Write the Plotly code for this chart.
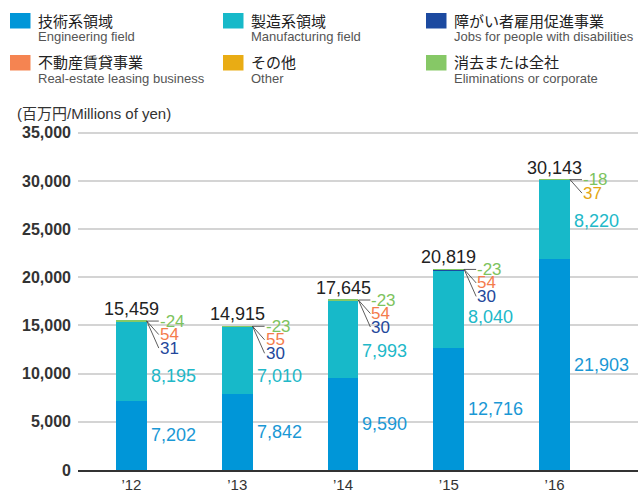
import plotly.graph_objects as go

# ---------------- data ----------------
years = ["’12", "’13", "’14", "’15", "’16"]
engineering = [7202, 7842, 9590, 12716, 21903]
manufacturing = [8195, 7010, 7993, 8040, 8220]
jobs = [31, 30, 30, 30, None]
real_estate = [54, 55, 54, 54, None]
other = [None, None, None, None, 37]
eliminations = [-24, -23, -23, -23, -18]
totals = [15459, 14915, 17645, 20819, 30143]
y_ticks = [0, 5000, 10000, 15000, 20000, 25000, 30000, 35000]

# ---------------- styles ----------------
FONT = "Liberation Sans, Arial, Noto Sans CJK JP, sans-serif"
C_ENG, C_MFG, C_JOBS = "#0096d8", "#17b9c9", "#1c4aa0"
C_RE, C_OTH, C_ELIM = "#f58451", "#e9ac14", "#86c866"
L_ENG, L_MFG, L_JOBS = "#1a98d5", "#21b8c8", "#23479b"
L_RE, L_OTH, L_ELIM = "#f47c4c", "#e4a612", "#7dc35e"
BW = 0.29
# vertical placement (data units) for manufacturing value labels
mfg_label_y = [9750, 9750, 12340, 15870, 25830]

xs = list(range(len(years)))

fig = go.Figure()
for vals, col, name in [
    (engineering, C_ENG, "eng"),
    (manufacturing, C_MFG, "mfg"),
    (jobs, C_JOBS, "jobs"),
    (real_estate, C_RE, "re"),
    (other, C_OTH, "oth"),
    (eliminations, C_ELIM, "elim"),
]:
    fig.add_trace(go.Bar(x=xs, y=vals, width=BW, marker=dict(color=col, line=dict(width=0)),
                         name=name, showlegend=False, hoverinfo="skip"))

ann = []
for i in xs:
    # total
    ann.append(dict(x=i, y=totals[i], text=f"{totals[i]:,}", showarrow=False, xref="x", yref="y",
                    yanchor="bottom", yshift=0, font=dict(size=18, color="#222", family=FONT)))
    # engineering
    ann.append(dict(x=i + BW / 2, y=engineering[i] / 2, text=f"{engineering[i]:,}", showarrow=False,
                    xref="x", yref="y", xanchor="left", xshift=2,
                    font=dict(size=18, color=L_ENG, family=FONT)))
    # manufacturing
    ann.append(dict(x=i + BW / 2, y=mfg_label_y[i], text=f"{manufacturing[i]:,}", showarrow=False,
                    xref="x", yref="y", xanchor="left", xshift=2,
                    font=dict(size=18, color=L_MFG, family=FONT)))
    # small items with leader lines
    k = 0
    for vals, col in [(eliminations, L_ELIM), (real_estate, L_RE), (other, L_OTH), (jobs, L_JOBS)]:
        v = vals[i]
        if v is None:
            continue
        ann.append(dict(x=i + BW / 2, y=totals[i], xref="x", yref="y", text=f"{v:,}",
                        showarrow=True, arrowhead=0, arrowwidth=0.8, arrowcolor="#333",
                        ax=12, ay=k * 13.5, axref="pixel", ayref="pixel",
                        xanchor="left", yanchor="middle", borderpad=0,
                        font=dict(size=17, color=col, family=FONT)))
        k += 1

# ---------------- legend (hand drawn) ----------------
W, H = 638, 494
L, R, T, B = 78, 0, 128, 24
PW, PH = W - L - R, H - T - B


def px(x):
    return (x - L) / PW


def py(y):
    return (H - B - y) / PH


legend_items = [
    (C_ENG, "技術系領域", "Engineering field", 10, 13),
    (C_MFG, "製造系領域", "Manufacturing field", 223, 13),
    (C_JOBS, "障がい者雇用促進事業", "Jobs for people with disabilities", 426, 13),
    (C_RE, "不動産賃貸事業", "Real-estate leasing business", 10, 55),
    (C_OTH, "その他", "Other", 223, 55),
    (C_ELIM, "消去または全社", "Eliminations or corporate", 426, 55),
]
shapes = []
for col, jp, en, lx, ty in legend_items:
    shapes.append(dict(type="rect", xref="paper", yref="paper", x0=px(lx), x1=px(lx + 20.5),
                       y0=py(ty), y1=py(ty + 15.5), fillcolor=col, line=dict(width=0)))
    ann.append(dict(x=px(lx + 25.5), y=py(ty + 8), xref="paper", yref="paper", text=jp,
                    showarrow=False, xanchor="left", yanchor="middle",
                    font=dict(size=15, color="#222", family=FONT)))
    ann.append(dict(x=px(lx + 25.5), y=py(ty + 23.5), xref="paper", yref="paper", text=en,
                    showarrow=False, xanchor="left", yanchor="middle",
                    font=dict(size=13, color="#555", family=FONT)))

ann.append(dict(x=px(15), y=py(113), xref="paper", yref="paper", text="(百万円/Millions of yen)",
                showarrow=False, xanchor="left", yanchor="middle",
                font=dict(size=15, color="#333", family=FONT)))

fig.update_layout(
    width=W, height=H, margin=dict(l=L, r=R, t=T, b=B),
    barmode="stack", bargap=0,
    plot_bgcolor="white", paper_bgcolor="white",
    font=dict(family=FONT, color="#333"),
    annotations=ann, shapes=shapes,
    xaxis=dict(range=[-0.505, 4.788], tickvals=xs, ticktext=years, showgrid=False, zeroline=False,
               showline=True, linecolor="#333", linewidth=1.5, ticks="",
               tickfont=dict(size=15, color="#333", family=FONT)),
    yaxis=dict(range=[0, 35500], tickvals=y_ticks, tickformat=",", showgrid=True,
               gridcolor="#d4d4d4", gridwidth=1.5, zeroline=False, showline=False, ticks="",
               ticklabelstandoff=6,
               tickfont=dict(size=16, color="#333", family="Liberation Sans, Arial, sans-serif",
                             weight="bold")),
)

fig.write_html("out.html", config={"displayModeBar": False},
               post_script="document.body.style.margin='0';document.body.style.overflow='hidden';")
